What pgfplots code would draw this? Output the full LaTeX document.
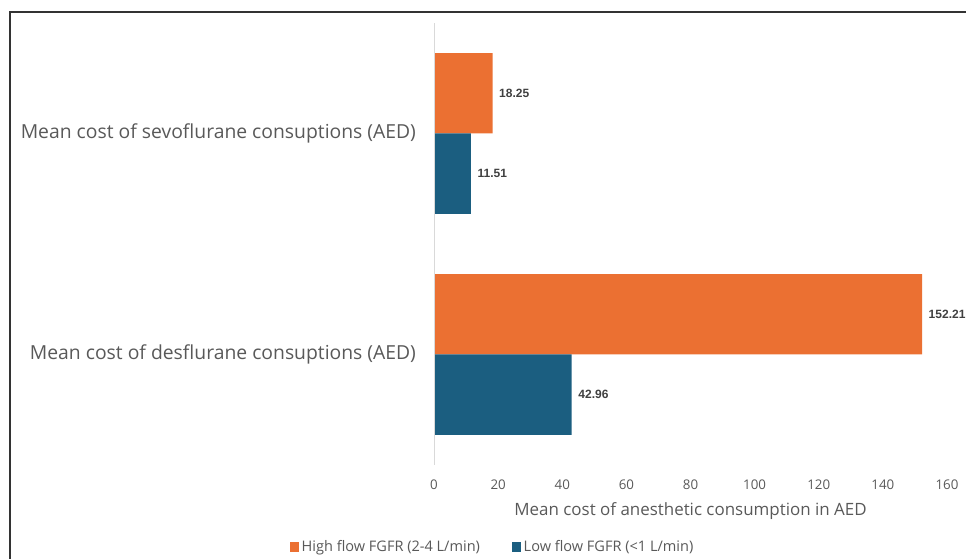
\documentclass[border=0pt]{standalone}
\usepackage{pgfplots}
\pgfplotsset{compat=1.18}
\usepackage{fontspec}
\setmainfont{Open Sans}
\newfontfamily\labelfont{Liberation Sans}

\definecolor{highflow}{RGB}{235,112,50}
\definecolor{lowflow}{RGB}{27,94,128}
\definecolor{txtgray}{RGB}{89,89,89}
\definecolor{lblgray}{RGB}{64,64,64}
\definecolor{framegray}{RGB}{51,51,51}

\begin{document}
\begin{tikzpicture}
\useasboundingbox (0,0) rectangle (724.5pt,419.25pt);
% outer frame (left and top edges)
\draw[framegray, line width=0.9pt] (7.5pt,0pt) -- (7.5pt,410.25pt) -- (724.5pt,410.25pt);
\begin{axis}[
  at={(325.5pt,70.5pt)}, anchor=south west,
  scale only axis,
  width=384.75pt, height=331.5pt,
  xbar,
  xmin=0, xmax=160,
  ymin=-0.5, ymax=1.5,
  bar width=0.3635,
  axis line style={draw=none},
  major tick length=0pt,
  xtick={0,20,...,160},
  ytick={0,1},
  yticklabels={Mean cost of desflurane consuptions (AED),Mean cost of sevoflurane consuptions (AED)},
  yticklabel style={font=\fontsize{14.5}{17}\selectfont, text=txtgray, xshift=-10pt},
  xticklabel style={font=\fontsize{10}{12}\selectfont, text=txtgray, yshift=-7.5pt},
  /pgf/number format/assume math mode=true,
  xlabel={Mean cost of anesthetic consumption in AED},
  xlabel style={font=\fontsize{12.7}{15}\selectfont, text=txtgray, yshift=-3pt},
  point meta=x,
  nodes near coords={\pgfmathprintnumber[fixed,fixed zerofill,precision=2]{\pgfplotspointmeta}},
  nodes near coords style={font=\labelfont\bfseries\fontsize{9}{11}\selectfont, text=lblgray, anchor=west, xshift=1.5pt},
  legend style={at={(0.1150,-0.1855)}, anchor=center, draw=none, legend columns=2,
    font=\fontsize{10.9}{13}\selectfont, text=txtgray,
    /tikz/every even column/.append style={column sep=22pt}},
  legend image code/.code={\fill[#1] (0pt,-3.4pt) rectangle (6.8pt,3.4pt);},
  clip=false,
]
\addplot[fill=highflow, draw=none, bar shift=0.18175] coordinates {(152.21,0) (18.25,1)};
\addlegendentry{High flow FGFR (2-4 L/min)}
\addplot[fill=lowflow, draw=none, bar shift=-0.18175] coordinates {(42.96,0) (11.51,1)};
\addlegendentry{Low flow FGFR (<1 L/min)}
\draw[gray!30, line width=0.6pt] (axis cs:0,-0.5) -- (axis cs:0,1.5);
\end{axis}
\end{tikzpicture}
\end{document}
